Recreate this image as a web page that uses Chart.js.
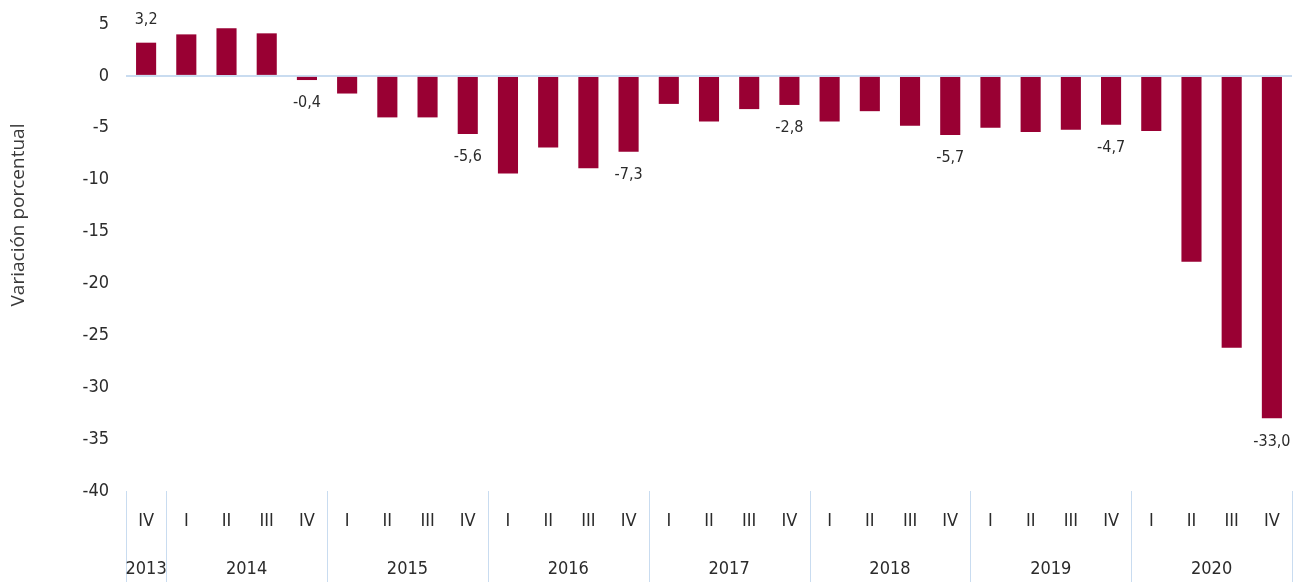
<!DOCTYPE html>
<html>
<head>
<meta charset="utf-8">
<script src="https://cdn.jsdelivr.net/npm/chart.js@4.4.1/dist/chart.umd.min.js"></script>
<style>
  html, body { margin: 0; padding: 0; background: #ffffff; }
  #wrap { width: 1301px; height: 582px; }
</style>
</head>
<body>
<div id="wrap"><canvas id="chart1" width="1301" height="582"></canvas></div>
<script>
// data
const years = ['2013', '2014', '2015', '2016', '2017', '2018', '2019', '2020'];
const quarters = [
    'IV',
    'I', 'II', 'III', 'IV',
    'I', 'II', 'III', 'IV',
    'I', 'II', 'III', 'IV',
    'I', 'II', 'III', 'IV',
    'I', 'II', 'III', 'IV',
    'I', 'II', 'III', 'IV',
    'I', 'II', 'III', 'IV'
];
// how many quarters each year has on the axis
const quartersPerYear = [1, 4, 4, 4, 4, 4, 4, 4];
const variation = [
    3.2,
    4.0, 4.6, 4.1, -0.4,
    -1.7, -4.0, -4.0, -5.6,
    -9.4, -6.9, -8.9, -7.3,
    -2.7, -4.4, -3.2, -2.8,
    -4.4, -3.4, -4.8, -5.7,
    -5.0, -5.4, -5.2, -4.7,
    -5.3, -17.9, -26.2, -33.0
];
// bars that carry a value label
const labelledBars = [0, 4, 8, 12, 16, 20, 24, 28];
const yTicks = [5, 0, -5, -10, -15, -20, -25, -30, -35, -40];

const barColor = '#990033';
const textColor = '#2b2b2b';
const lineColor = '#c9dcf0';
const narrowFont = '"DejaVu Sans Condensed", "Liberation Sans Narrow", Roboto, sans-serif';

//value labels on bars
const valueLabels = {
    id: 'valueLabels',
    afterDatasetsDraw(chart) {
        const ctx = chart.ctx;
        const meta = chart.getDatasetMeta(0);
        ctx.save();
        ctx.font = '16px ' + narrowFont;
        ctx.fillStyle = textColor;
        ctx.textAlign = 'center';
        ctx.textBaseline = 'middle';
        labelledBars.forEach(function(i) {
            const bar = meta.data[i];
            const v = variation[i];
            const txt = v.toFixed(1).replace('.', ',');
            const y = v >= 0 ? bar.y - 23 : bar.y + 23;
            ctx.fillText(txt, bar.x, y);
        });
        ctx.restore();
    }
};

//year row + separators under the quarter labels
const yearAxis = {
    id: 'yearAxis',
    afterDraw(chart) {
        const ctx = chart.ctx;
        const x = chart.scales.x;
        const area = chart.chartArea;
        const half = (x.getPixelForValue(1) - x.getPixelForValue(0)) / 2;
        ctx.save();
        ctx.strokeStyle = lineColor;
        ctx.lineWidth = 1;
        ctx.font = '18px ' + narrowFont;
        ctx.fillStyle = textColor;
        ctx.textAlign = 'center';
        ctx.textBaseline = 'middle';
        let start = 0;
        years.forEach(function(yr, k) {
            const end = start + quartersPerYear[k] - 1;
            const left = x.getPixelForValue(start) - half;
            const right = x.getPixelForValue(end) + half;
            [left, right].forEach(function(px) {
                ctx.beginPath();
                ctx.moveTo(Math.round(px) + 0.5, area.bottom);
                ctx.lineTo(Math.round(px) + 0.5, chart.height);
                ctx.stroke();
            });
            ctx.fillText(yr, (left + right) / 2, 569);
            start = end + 1;
        });
        // axis title
        ctx.translate(19, 215);
        ctx.rotate(-Math.PI / 2);
        ctx.font = '19px "Open Sans", sans-serif';
        ctx.fillStyle = '#3a3a3a';
        ctx.fillText('Variación porcentual', 0, 0);
        ctx.restore();
    }
};

const data = {
    labels: quarters,
    datasets: [{
        data: variation,
        backgroundColor: barColor,
        borderWidth: 0,
        barPercentage: 0.5,
        categoryPercentage: 1
    }]
};

const config = {
    type: 'bar',
    data: data,
    options: {
        responsive: false,
        animation: false,
        layout: { padding: { top: 24, right: 9, left: 0, bottom: 0 } },
        plugins: {
            legend: { display: false },
            tooltip: { enabled: false }
        },
        scales: {
            x: {
                grid: { display: false, drawTicks: false },
                border: { display: false },
                ticks: {
                    color: textColor,
                    font: { family: narrowFont, size: 18 },
                    padding: 20,
                    maxRotation: 0,
                    autoSkip: false
                },
                afterFit: function(scale) {
                    scale.height = 91;
                    scale.paddingLeft = 0;
                    scale.paddingRight = 0;
                }
            },
            y: {
                min: -40,
                max: 5,
                afterBuildTicks: function(scale) {
                    scale.ticks = yTicks.map(function(v) { return { value: v }; });
                },
                grid: {
                    drawTicks: false,
                    lineWidth: 2,
                    color: function(c) { return c.tick && c.tick.value === 0 ? lineColor : 'rgba(0,0,0,0)'; }
                },
                border: { display: false },
                ticks: {
                    color: textColor,
                    font: { family: narrowFont, size: 18 },
                    padding: 17
                },
                afterFit: function(scale) {
                    scale.width = 126;
                    scale.paddingTop = 0;
                    scale.paddingBottom = 0;
                }
            }
        }
    },
    plugins: [valueLabels, yearAxis]
};

const myChart = new Chart(document.getElementById('chart1'), config);
</script>
</body>
</html>
